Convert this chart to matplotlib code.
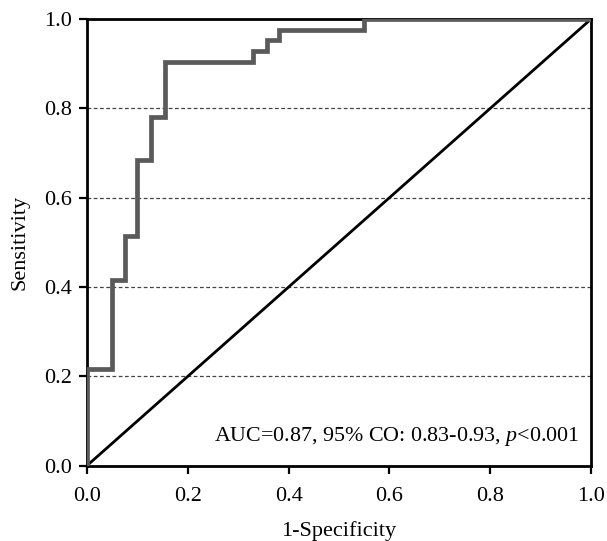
import matplotlib
matplotlib.use("Agg")
import matplotlib.pyplot as plt

plt.rcParams["font.family"] = ["Liberation Serif", "DejaVu Serif"]
plt.rcParams["mathtext.fontset"] = "custom"
plt.rcParams["mathtext.rm"] = "Liberation Serif"
plt.rcParams["mathtext.it"] = "Liberation Serif:italic"

# ROC step points (1-specificity, sensitivity)
fpr = [0.0, 0.0, 0.05, 0.05, 0.075, 0.075, 0.10, 0.10, 0.127, 0.127,
       0.155, 0.155, 0.33, 0.33, 0.357, 0.357, 0.381, 0.381, 0.55, 0.55, 1.0]
tpr = [0.0, 0.216, 0.216, 0.416, 0.416, 0.515, 0.515, 0.685, 0.685, 0.781,
       0.781, 0.904, 0.904, 0.928, 0.928, 0.953, 0.953, 0.976, 0.976, 1.0, 1.0]

ticks = [0.0, 0.2, 0.4, 0.6, 0.8, 1.0]
annotation = "AUC=0.87, 95% CO: 0.83-0.93, $p$<0.001"

fig = plt.figure(figsize=(6.07, 5.41), dpi=100)
ax = fig.add_axes([0.143, 0.139, 0.831, 0.826])

for y in ticks[1:-1]:
    ax.axhline(y, color="#444444", linestyle=(0, (3, 2)), linewidth=0.9, zorder=1)

ax.plot([0, 1], [0, 1], color="black", linewidth=2.0, zorder=2)
ax.plot(fpr, tpr, color="#5a5a5a", linewidth=3.4, zorder=3, solid_joinstyle="miter")

ax.set_xlim(0, 1)
ax.set_ylim(0, 1)
ax.set_xticks(ticks)
ax.set_yticks(ticks)
ax.set_xticklabels([f"{t:.1f}" for t in ticks])
ax.set_yticklabels([f"{t:.1f}" for t in ticks])
ax.tick_params(direction="out", length=6, width=1.6, labelsize=16, colors="black")
ax.tick_params(axis="x", pad=9)
ax.tick_params(axis="y", pad=5)
for spine in ax.spines.values():
    spine.set_linewidth(2.0)

ax.set_xlabel("1-Specificity", fontsize=16, labelpad=11)
ax.set_ylabel("Sensitivity", fontsize=16, labelpad=10)

ax.text(0.977, 0.04, annotation, transform=ax.transAxes, ha="right", va="bottom",
        fontsize=15.8)

fig.savefig("out.png", dpi=100)
